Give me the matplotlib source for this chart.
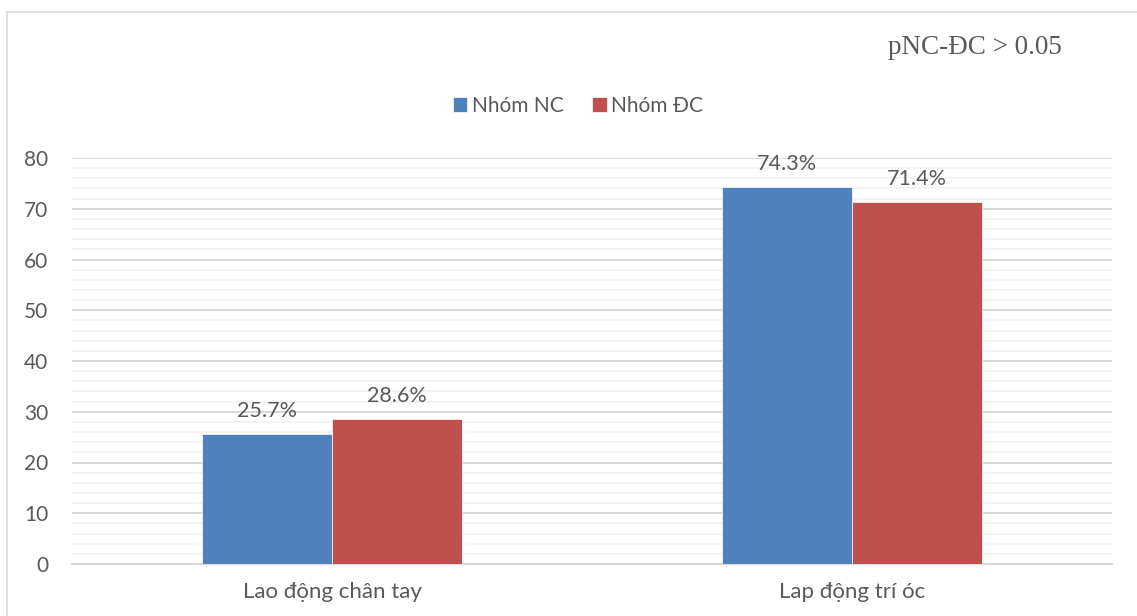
import numpy as np
import matplotlib.pyplot as plt
from matplotlib.patches import Rectangle

categories = ["Lao động chân tay", "Lap động trí óc"]
series_names = ["Nhóm NC", "Nhóm ĐC"]
nc_values = [25.7, 74.3]
dc_values = [28.6, 71.4]
colors = ["#4F81BD", "#C0504D"]
yticks = [0, 10, 20, 30, 40, 50, 60, 70, 80]

plt.rcParams['font.family'] = ['Lato', 'DejaVu Sans']
txt = "#595959"

fig = plt.figure(figsize=(11.37, 6.16), dpi=100)
ax = fig.add_axes([72/1137, 1 - 564/616, 1040/1137, (564 - 158)/616])

x = np.arange(len(categories))
w = 0.25
b1 = ax.bar(x - w/2, nc_values, w, color=colors[0], label=series_names[0],
            edgecolor="white", linewidth=0.5, zorder=3)
b2 = ax.bar(x + w/2, dc_values, w, color=colors[1], label=series_names[1],
            edgecolor="white", linewidth=0.5, zorder=3)

# nhãn phần trăm trên cột
for bars in (b1, b2):
    for r in bars:
        ax.annotate(f"{r.get_height():.1f}%", (r.get_x() + r.get_width()/2, r.get_height()),
                    xytext=(0, 9), textcoords="offset points", ha="center", va="bottom",
                    fontsize=15.5, color=txt)

ax.set_xlim(-0.5, 1.5)
ax.set_ylim(0, 80)
ax.set_xticks(x)
ax.set_xticklabels(categories, fontsize=16, color=txt)
ax.set_yticks(yticks)
ax.set_yticklabels([str(v) for v in yticks], fontsize=15, color=txt)
ax.set_yticks(np.arange(0, 81, 2), minor=True)
ax.tick_params(axis="both", length=0, which="both")
ax.tick_params(axis="x", pad=13)
ax.tick_params(axis="y", pad=17)
ax.grid(axis="y", which="minor", color="#F2F2F2", linewidth=1.3, zorder=0)
ax.grid(axis="y", which="major", color="#D9D9D9", linewidth=1.5, zorder=1)
for s in ["top", "right", "left"]:
    ax.spines[s].set_visible(False)
ax.spines["bottom"].set_color("#D9D9D9")
ax.spines["bottom"].set_linewidth(1.5)

leg = fig.legend(loc="center", bbox_to_anchor=(578/1137, 1 - 106/616), ncol=2,
                 frameon=False, fontsize=15, handlelength=0.7, handleheight=0.7,
                 handletextpad=0.2, columnspacing=1.4)
for t in leg.get_texts():
    t.set_color(txt)

fig.text(975/1137, 1 - 48/616, "pNC-ĐC > 0.05", ha="center", va="center",
         fontsize=19.5, color=txt, family=["Liberation Serif", "DejaVu Serif"])

fig.patches.append(Rectangle((7/1137, -0.01), 1.0, 1 - 12/616 + 0.01, transform=fig.transFigure,
                             fill=False, edgecolor="#D9D9D9", linewidth=1.2))

fig.savefig("out.png", dpi=100)
